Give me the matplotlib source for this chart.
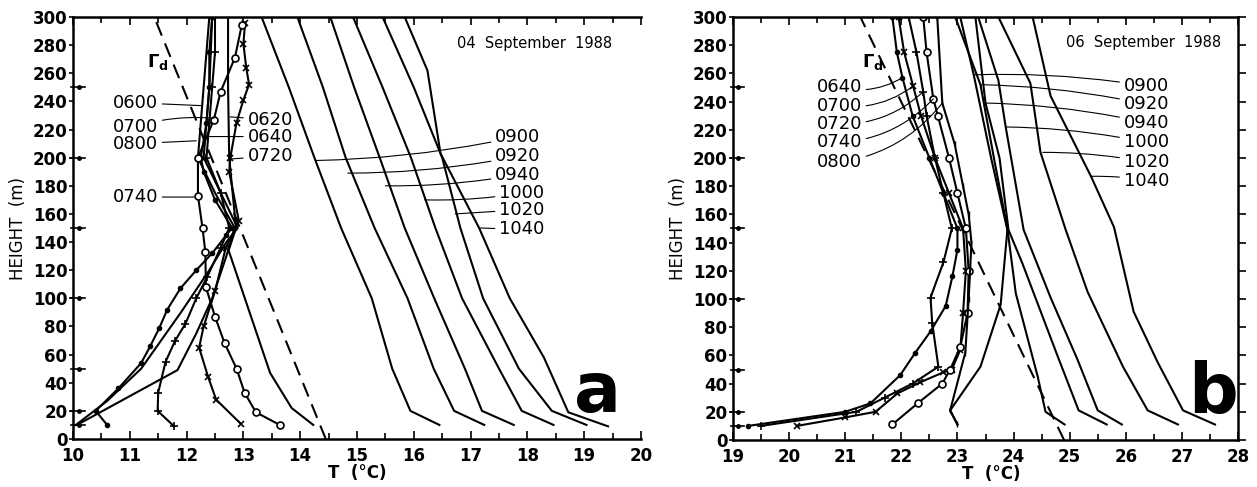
import matplotlib.pyplot as plt
from matplotlib.ticker import MultipleLocator

plt.rcParams['font.family'] = ['DejaVu Sans']
plt.rcParams['font.weight'] = 'bold'

# ---------------- panel a : 04 September 1988 ----------------
gamma_a_t = [14.45, 11.43]
gamma_a_h = [0, 300]

# morning soundings (T degC, height m)
a_dots_t = [10.6, 10.4, 10.8, 11.2, 11.36, 11.52, 11.66, 11.89, 12.17, 12.45, 12.7, 12.8, 12.5, 12.3, 12.25, 12.35, 12.4, 12.4, 12.45]
a_dots_h = [10, 20, 36, 54, 66, 79, 92, 107, 120, 132, 145, 150, 170, 190, 200, 225, 250, 275, 300]
a_plain1_t = [10.07, 11.84, 12.17, 12.45, 12.7, 12.85, 12.5, 12.2, 12.3, 12.4]
a_plain1_h = [10, 49, 75, 100, 130, 150, 175, 200, 250, 300]
a_plain2_t = [10.05, 10.6, 11.2, 11.9, 12.4, 12.7, 12.9, 12.6, 12.3, 12.4, 12.45]
a_plain2_h = [10, 27, 50, 90, 120, 140, 150, 175, 200, 250, 300]
a_plus_t = [11.78, 11.49, 11.5, 11.63, 11.8, 11.98, 12.17, 12.36, 12.6, 12.75, 12.6, 12.35, 12.4, 12.45, 12.5, 12.5]
a_plus_h = [9, 20, 33, 55, 70, 82, 100, 115, 136, 150, 175, 200, 225, 250, 275, 300]
a_star_t = [12.95, 12.52, 12.38, 12.22, 12.3, 12.5, 12.69, 12.92, 12.75, 12.77, 12.88, 13.0, 13.1, 13.05, 13.0, 13.03]
a_star_h = [11, 28, 44, 65, 80, 105, 136, 155, 190, 200, 225, 241, 252, 264, 281, 296]
a_circ_t = [13.64, 13.22, 13.02, 12.88, 12.67, 12.5, 12.34, 12.33, 12.28, 12.2, 12.2, 12.48, 12.6, 12.85, 12.97]
a_circ_h = [10, 19, 33, 50, 68, 87, 108, 133, 150, 173, 200, 227, 247, 271, 294]
a_plain3_t = [14.23, 13.85, 13.47, 12.74, 12.87, 12.75, 12.73, 12.73]
a_plain3_h = [10, 22, 47, 134, 150, 200, 250, 300]

# daytime soundings
a_day_h = [10, 20, 50, 100, 150, 200, 250, 300]
a_0900_t = [16.45, 15.94, 15.62, 15.26, 14.72, 14.25, 13.8, 13.32]
a_0920_t = [17.24, 16.71, 16.35, 15.89, 15.31, 14.8, 14.4, 13.95]
a_0940_t = [17.76, 17.2, 16.9, 16.36, 15.84, 15.4, 14.95, 14.53]
a_1000_t = [18.46, 17.9, 17.5, 16.85, 16.38, 15.95, 15.45, 14.93]
a_1020_t = [19.04, 18.43, 17.85, 17.22, 16.82, 16.5, 16.0, 15.45]
a_1040_t = [19.42, 18.72, 18.29, 17.69, 17.15, 16.47, 16.24, 15.84]
a_1040_h = [9, 19, 58, 100, 150, 203, 262, 300]

# ---------------- panel b : 06 September 1988 ----------------
gamma_b_t = [24.9, 21.27]
gamma_b_h = [0, 300]

b_0640_t = [19.27, 21.0, 21.45, 21.98, 22.25, 22.52, 22.79, 22.91, 23.0, 23.0, 22.75, 22.5, 22.2, 22.02, 21.92, 21.84]
b_0640_h = [10, 20, 26, 46, 62, 77, 95, 116, 135, 150, 175, 200, 230, 257, 275, 300]
b_0700_t = [20.14, 21.0, 21.54, 21.93, 22.34, 22.75, 22.9, 23.05, 23.1, 23.15, 23.1, 22.85, 22.6, 22.35, 22.21, 22.05, 21.95]
b_0700_h = [10, 16, 20, 33, 41, 48, 50, 64, 90, 120, 150, 175, 200, 230, 251, 275, 300]
b_0720_t = [19.5, 21.2, 21.7, 22.2, 22.66, 22.55, 22.52, 22.75, 22.9, 22.75, 22.6, 22.45, 22.39, 22.27, 22.13]
b_0720_h = [10, 20, 30, 40, 52, 83, 101, 126, 150, 175, 200, 230, 247, 275, 300]
b_0740_t = [21.84, 22.29, 22.73, 22.87, 23.05, 23.18, 23.2, 23.15, 23.0, 22.85, 22.65, 22.57, 22.45, 22.39]
b_0740_h = [11, 26, 40, 50, 66, 90, 120, 150, 175, 200, 230, 242, 275, 300]
b_0800_t = [23.0, 22.87, 23.14, 23.2, 23.25, 23.2, 23.1, 22.95, 22.73, 22.64]
b_0800_h = [11, 21, 62, 100, 140, 160, 180, 210, 239, 300]

b_0900_t = [23.0, 22.87, 23.41, 23.77, 23.89, 23.6, 23.29, 23.05]
b_0900_h = [11, 21, 52, 96, 149, 200, 259, 300]
b_0920_t = [24.91, 24.57, 24.43, 24.04, 23.89, 23.65, 23.41, 22.96]
b_0920_h = [11, 20, 45, 104, 150, 200, 252, 300]
b_0940_t = [25.66, 25.16, 24.79, 24.16, 23.91, 23.75, 23.5, 23.32]
b_0940_h = [11, 21, 59, 125, 149, 200, 239, 300]
b_1000_t = [25.93, 25.5, 25.14, 24.66, 24.18, 23.86, 23.73, 23.37]
b_1000_h = [11, 21, 57, 101, 149, 222, 255, 300]
b_1020_t = [26.93, 26.39, 25.95, 25.32, 24.93, 24.48, 24.3, 23.73]
b_1020_h = [11, 21, 52, 105, 149, 204, 253, 300]
b_1040_t = [27.59, 27.02, 26.57, 26.14, 25.79, 25.38, 24.66, 24.34]
b_1040_h = [11, 21, 55, 91, 151, 187, 244, 300]

arrow_heights = [10, 20, 50, 100, 150, 200, 250]

fig = plt.figure(figsize=(12.57, 4.87), dpi=100)
ax1 = fig.add_axes([73/1257, 48/487, 568/1257, 422/487])
ax2 = fig.add_axes([733/1257, 47/487, 505/1257, 423/487])

lw = 1.5
mk = dict(color='black', lw=lw)

def style(ax, x0, x1):
    ax.set_xlim(x0, x1)
    ax.set_ylim(0, 300)
    ax.xaxis.set_major_locator(MultipleLocator(1))
    ax.xaxis.set_minor_locator(MultipleLocator(0.5))
    ax.yaxis.set_major_locator(MultipleLocator(20))
    ax.tick_params(axis='x', which='both', direction='in', top=True, length=6, width=1.2,
                   labelsize=12, pad=6)
    ax.tick_params(axis='x', which='minor', length=4)
    ax.tick_params(axis='y', direction='out', length=3, width=1.2, labelsize=12, pad=1)
    for s in ax.spines.values():
        s.set_linewidth(1.8)
    for lab in ax.get_xticklabels() + ax.get_yticklabels():
        lab.set_fontweight('bold')
    tr = ax.get_yaxis_transform()
    for h in arrow_heights:
        ax.plot([-0.004, 0.022], [h, h], color='black', lw=1.2, transform=tr, clip_on=False)
        ax.plot([0.01], [h], marker='o', ms=2.5, color='black', transform=tr, clip_on=False)

style(ax1, 10, 20)
style(ax2, 19, 28)
ax1.spines['right'].set_visible(False)
ax2.yaxis.set_ticks_position('both')
ax2.tick_params(axis='y', which='both', right=True, labelright=False)
for t in ax2.yaxis.get_major_ticks():
    t.tick2line.set_markersize(6)

# ---- panel a curves ----
ax1.plot(gamma_a_t, gamma_a_h, color='black', lw=lw, dashes=(7, 4))
ax1.plot(a_dots_t, a_dots_h, marker='o', ms=3, **mk)
ax1.plot(a_plain1_t, a_plain1_h, **mk)
ax1.plot(a_plain2_t, a_plain2_h, **mk)
ax1.plot(a_plus_t, a_plus_h, marker='+', ms=6, mew=1.2, **mk)
ax1.plot(a_star_t, a_star_h, marker='x', ms=5, mew=1.2, **mk)
ax1.plot(a_circ_t, a_circ_h, marker='o', ms=5, mfc='white', mew=1.2, **mk)
ax1.plot(a_plain3_t, a_plain3_h, **mk)
for t in [a_0900_t, a_0920_t, a_0940_t, a_1000_t, a_1020_t]:
    ax1.plot(t, a_day_h, **mk)
ax1.plot(a_1040_t, a_1040_h, **mk)

# ---- panel b curves ----
ax2.plot(gamma_b_t, gamma_b_h, color='black', lw=lw, dashes=(7, 4))
ax2.plot(b_0640_t, b_0640_h, marker='o', ms=3, **mk)
ax2.plot(b_0700_t, b_0700_h, marker='x', ms=5, mew=1.2, **mk)
ax2.plot(b_0720_t, b_0720_h, marker='+', ms=6, mew=1.2, **mk)
ax2.plot(b_0740_t, b_0740_h, marker='o', ms=5, mfc='white', mew=1.2, **mk)
ax2.plot(b_0800_t, b_0800_h, marker='|', ms=5, **mk)
for t, h in [(b_0900_t, b_0900_h), (b_0920_t, b_0920_h), (b_0940_t, b_0940_h),
             (b_1000_t, b_1000_h), (b_1020_t, b_1020_h), (b_1040_t, b_1040_h)]:
    ax2.plot(t, h, **mk)

lead = dict(arrowstyle='-', lw=0.8, color='black', shrinkA=1, shrinkB=0)
lab_fs = 13

def label(ax, txt, xy, xytext, ha, rad=0.0):
    p = dict(lead)
    p['connectionstyle'] = 'arc3,rad=%g' % rad
    ax.annotate(txt, xy=xy, xytext=xytext, ha=ha, va='center', fontsize=lab_fs,
                fontweight='normal', arrowprops=p)

# panel a labels
label(ax1, '0600', (12.26, 237), (11.5, 239), 'right')
label(ax1, '0700', (12.48, 228), (11.5, 222), 'right', -0.1)
label(ax1, '0800', (12.17, 212), (11.5, 210), 'right')
label(ax1, '0740', (12.13, 172), (11.5, 172), 'right')
label(ax1, '0620', (12.76, 229), (13.07, 227), 'left')
label(ax1, '0640', (12.4, 215), (13.07, 215), 'left')
label(ax1, '0720', (12.75, 199), (13.07, 201), 'left')
label(ax1, '0900', (14.28, 198), (17.43, 215), 'left', -0.05)
label(ax1, '0920', (14.84, 189), (17.43, 201), 'left', -0.05)
label(ax1, '0940', (15.5, 180), (17.43, 188), 'left', -0.05)
label(ax1, '1000', (16.19, 170), (17.5, 175), 'left', -0.05)
label(ax1, '1020', (16.73, 160), (17.5, 163), 'left')
label(ax1, '1040', (17.17, 150), (17.5, 149), 'left')

# panel b labels
label(ax2, '0640', (22.02, 257), (21.3, 250), 'right', 0.2)
label(ax2, '0700', (22.21, 251), (21.3, 237), 'right', 0.2)
label(ax2, '0720', (22.39, 247), (21.3, 224), 'right', 0.2)
label(ax2, '0740', (22.57, 242), (21.3, 211), 'right', 0.2)
label(ax2, '0800', (22.73, 239), (21.3, 197), 'right', 0.2)
label(ax2, '0900', (23.29, 259), (25.96, 251), 'left', 0.05)
label(ax2, '0920', (23.41, 252), (25.96, 238), 'left', 0.05)
label(ax2, '0940', (23.5, 239), (25.96, 225), 'left', 0.05)
label(ax2, '1000', (23.86, 222), (25.96, 211), 'left', 0.05)
label(ax2, '1020', (24.52, 204), (25.96, 197), 'left', 0.05)
label(ax2, '1040', (25.38, 187), (25.96, 184), 'left', 0.05)

ax1.text(11.49, 268, r'$\Gamma_\mathrm{d}$', fontsize=13, ha='center', va='center')
ax2.text(21.5, 268, r'$\Gamma_\mathrm{d}$', fontsize=13, ha='center', va='center')

ax1.text(19.5, 281, '04  September  1988', ha='right', va='center', fontsize=10.5,
         fontweight='normal')
ax2.text(27.7, 282, '06  September  1988', ha='right', va='center', fontsize=10.5,
         fontweight='normal')

big = dict(fontsize=50, fontweight='heavy', va='baseline', ha='center',
           family=['Liberation Sans Narrow', 'DejaVu Sans'])
ax1.text(19.24, 19, 'a', **big)
ax2.text(27.55, 19, 'b', **big)

ax1.text(15.0, -24, 'T  (°C)', ha='center', va='center', fontsize=12)
ax2.text(23.6, -24, 'T  (°C)', ha='center', va='center', fontsize=12)
ax1.set_ylabel('HEIGHT  (m)', fontsize=12, labelpad=4)
ax2.set_ylabel('HEIGHT  (m)', fontsize=12, labelpad=4)

fig.savefig('out.png', dpi=100)
